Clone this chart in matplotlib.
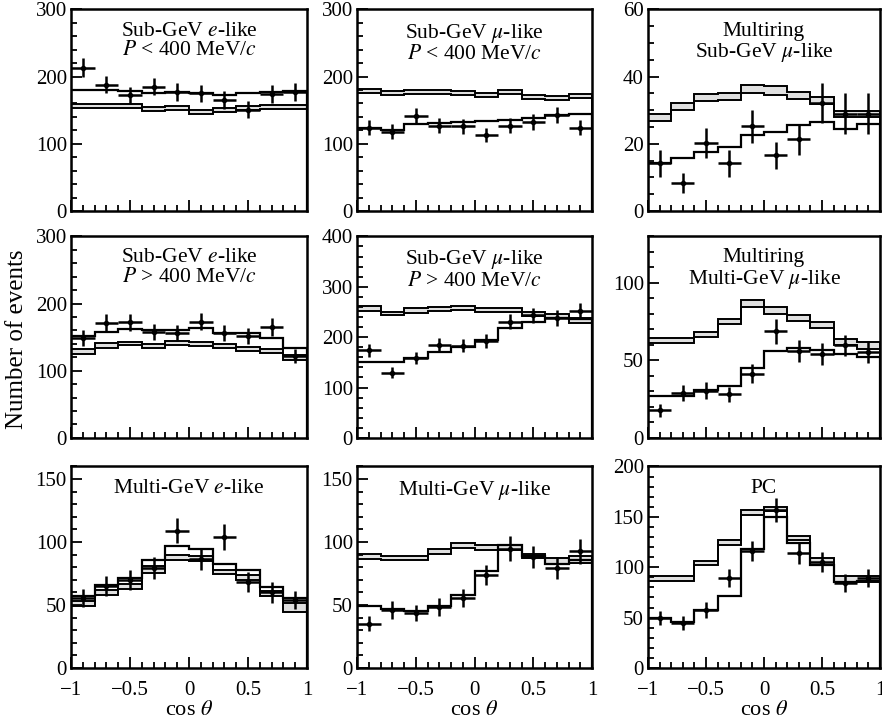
import numpy as np
import matplotlib
matplotlib.use('Agg')
import matplotlib.pyplot as plt

plt.rcParams['font.family'] = ['Liberation Serif', 'DejaVu Serif']
plt.rcParams['mathtext.fontset'] = 'stix'
plt.rcParams['font.size'] = 15

# bin edges / centres in cos(theta)
edges = np.linspace(-1, 1, 11)
centres = (edges[:-1] + edges[1:]) / 2

# Sub-GeV e-like, P < 400 MeV/c
sge_lo_data = [213, 188, 172, 185, 177, 175, 165, 151, 174, 177]
sge_lo_err = [14, 13, 13, 13, 13, 13, 13, 13, 13, 13]
sge_lo_band_lo = [153, 153, 153, 149, 150, 145, 148, 150, 152, 152]
sge_lo_band_hi = [159, 159, 159, 155, 156, 151, 154, 156, 158, 158]
sge_lo_osc = [180, 180, 178, 176, 177, 175, 173, 175, 177, 178]

# Sub-GeV mu-like, P < 400 MeV/c
sgm_lo_data = [124, 118, 141, 127, 126, 113, 127, 132, 143, 124]
sgm_lo_err = [11, 11, 12, 11, 11, 11, 11, 12, 12, 11]
sgm_lo_band_lo = [175, 173, 174, 174, 172, 170, 174, 167, 165, 168]
sgm_lo_band_hi = [181, 179, 180, 180, 178, 176, 180, 173, 171, 174]
sgm_lo_osc = [124, 121, 129, 131, 132, 134, 136, 138, 143, 144]

# Multiring Sub-GeV mu-like
mr_sg_data = [14.2, 8.4, 20.3, 14.2, 25.2, 16.6, 21.3, 32.2, 29, 29]
mr_sg_err = [4, 3, 4.5, 4, 5, 4, 4.5, 6, 6, 6]
mr_sg_band_lo = [26.9, 30.2, 32.8, 33.0, 35.1, 34.6, 33.3, 31.8, 28.0, 28.0]
mr_sg_band_hi = [29.0, 32.2, 34.7, 35.0, 37.4, 37.2, 35.4, 34.0, 29.8, 29.7]
mr_sg_osc = [14.2, 15.9, 17.6, 19.1, 22.6, 23.6, 25.5, 26.5, 24.5, 25.8]

# Sub-GeV e-like, P > 400 MeV/c
sge_hi_data = [149, 171, 172, 158, 156, 173, 156, 152, 165, 122]
sge_hi_err = [12, 13, 13, 12, 12, 13, 12, 12, 13, 11]
sge_hi_band_lo = [125, 134, 138, 134, 138, 137, 134, 130, 126, 116]
sge_hi_band_hi = [132, 141, 143, 140, 144, 143, 140, 136, 132, 123]
sge_hi_osc = [151, 157, 162, 160, 161, 163, 156, 156, 148, 134]

# Sub-GeV mu-like, P > 400 MeV/c
sgm_hi_data = [174, 129, 158, 185, 183, 192, 231, 243, 238, 251]
sgm_hi_err = [13, 11, 12, 14, 13, 14, 15, 15, 15, 16]
sgm_hi_band_lo = [251, 243, 248, 252, 253, 250, 250, 241, 238, 228]
sgm_hi_band_hi = [261, 250, 257, 260, 262, 258, 258, 250, 245, 238]
sgm_hi_osc = [150, 150, 158, 171, 181, 195, 218, 231, 238, 235]

# Multiring Multi-GeV mu-like
mr_mg_data = [17.8, 29, 30.5, 28, 41.5, 68.8, 56, 54, 59.6, 55.3]
mr_mg_err = [4, 5, 5.5, 5, 6, 8, 7, 7, 7, 7]
mr_mg_band_lo = [61.3, 61.3, 65.2, 73.5, 84.5, 80.2, 75.3, 71.0, 59.8, 57.6]
mr_mg_band_hi = [64.5, 64.5, 68.4, 77.0, 88.8, 84.5, 79.0, 75.0, 64.0, 62.0]
mr_mg_osc = [27, 27, 30.8, 33.3, 45, 56.3, 58, 57, 54, 52]

# Multi-GeV e-like
mge_data = [55.6, 65, 69.6, 79.4, 109, 86.5, 104, 68, 60, 54]
mge_err = [7.5, 8, 8, 9, 10, 9, 10, 8, 8, 7]
mge_band_lo = [49, 58, 63, 75.4, 86, 84.7, 74.9, 69.6, 57, 44.4]
mge_band_hi = [53, 62, 67, 80.7, 90, 88.6, 77.5, 74, 61, 51.6]
mge_osc = [57, 66, 71.4, 86, 96.6, 94.7, 82.8, 77.5, 64.3, 55.6]

# Multi-GeV mu-like
mgm_data = [35, 46.3, 43.7, 48.4, 55.6, 74, 94.7, 88, 79.4, 92.6]
mgm_err = [6, 7, 6.5, 7, 7, 8, 10, 9, 9, 10]
mgm_band_lo = [86.5, 86, 86, 90.5, 95, 94, 94, 87.3, 82.8, 83]
mgm_band_hi = [90.7, 88.6, 88.6, 94.4, 99, 98, 98, 90.7, 87.3, 88.6]
mgm_osc = [49, 47, 45, 49, 58, 76.7, 98, 88.6, 82.8, 86]

# PC
pc_data = [49.4, 45, 58, 89, 116, 157, 113.7, 105.4, 84.7, 89]
pc_err = [7, 7, 8, 9, 10, 12, 10, 10, 9, 9]
pc_band_lo = [86.3, 86.3, 102, 121.9, 151.5, 155.5, 126.9, 102, 85.7, 85.7]
pc_band_hi = [91.3, 91.3, 106, 127.5, 157.2, 159.8, 130.8, 108.7, 91.3, 91.3]
pc_osc = [49.4, 46, 58, 71.5, 118, 150, 123.6, 102, 85.7, 86.3]

titles = [
    'Sub-GeV $e$-like\n$P$ < 400 MeV/$c$',
    'Sub-GeV $\\mu$-like\n$P$ < 400 MeV/$c$',
    'Multiring\nSub-GeV $\\mu$-like',
    'Sub-GeV $e$-like\n$P$ > 400 MeV/$c$',
    'Sub-GeV $\\mu$-like\n$P$ > 400 MeV/$c$',
    'Multiring\nMulti-GeV $\\mu$-like',
    'Multi-GeV $e$-like',
    'Multi-GeV $\\mu$-like',
    'PC',
]
ylims = [300, 300, 60, 300, 400, 130, 160, 160, 200]
ymajor = [100, 100, 20, 100, 100, 50, 50, 50, 50]
yminor = [20, 20, 5, 20, 20, 10, 10, 10, 10]

panels = [
    (sge_lo_data, sge_lo_err, sge_lo_band_lo, sge_lo_band_hi, sge_lo_osc),
    (sgm_lo_data, sgm_lo_err, sgm_lo_band_lo, sgm_lo_band_hi, sgm_lo_osc),
    (mr_sg_data, mr_sg_err, mr_sg_band_lo, mr_sg_band_hi, mr_sg_osc),
    (sge_hi_data, sge_hi_err, sge_hi_band_lo, sge_hi_band_hi, sge_hi_osc),
    (sgm_hi_data, sgm_hi_err, sgm_hi_band_lo, sgm_hi_band_hi, sgm_hi_osc),
    (mr_mg_data, mr_mg_err, mr_mg_band_lo, mr_mg_band_hi, mr_mg_osc),
    (mge_data, mge_err, mge_band_lo, mge_band_hi, mge_osc),
    (mgm_data, mgm_err, mgm_band_lo, mgm_band_hi, mgm_osc),
    (pc_data, pc_err, pc_band_lo, pc_band_hi, pc_osc),
]

fig = plt.figure(figsize=(8.82, 7.25), dpi=100)

lefts = [0.0805, 0.4048, 0.7347]
widths = [0.2676, 0.2664, 0.2630]
bottoms = [0.709, 0.396, 0.0786]
height = 0.278

for i, (data, err, blo, bhi, osc) in enumerate(panels):
    r, c = divmod(i, 3)
    ax = fig.add_axes([lefts[c], bottoms[r], widths[c], height])

    # no-oscillation band
    ax.stairs(bhi, edges, baseline=blo, fill=True, color='#e0e0e0', lw=0)
    ax.stairs(blo, edges, color='black', lw=1.4)
    ax.stairs(bhi, edges, color='black', lw=1.4)
    # oscillation fit
    ax.stairs(osc, edges, color='black', lw=1.6)
    # data crosses
    ax.errorbar(centres, data, yerr=err, xerr=0.1, fmt='o', ms=3,
                color='black', elinewidth=1.8, capsize=0)

    ax.set_xlim(-1, 1)
    ax.set_ylim(0, ylims[i])
    ax.set_xticks([-1, -0.5, 0, 0.5, 1])
    ax.set_xticks(np.arange(-1, 1.01, 0.1), minor=True)
    ax.set_yticks(np.arange(0, ylims[i] + 0.1, ymajor[i]))
    ax.set_yticks(np.arange(0, ylims[i] + 0.1, yminor[i]), minor=True)
    ax.tick_params(which='both', direction='in', top=False, right=False, width=1.3)
    ax.tick_params(which='major', length=8)
    ax.tick_params(which='minor', length=4)
    ax.tick_params(axis='y', labelsize=15, pad=3)
    ax.tick_params(axis='x', labelsize=15, pad=9)
    ax.set_xticklabels(['\u22121', '\u22120.5', '0', '0.5', '1'])
    if r < 2:
        ax.tick_params(axis='x', labelbottom=False)
    else:
        ax.set_xlabel(r'cos $\theta$', fontsize=16, labelpad=1)
    for s in ax.spines.values():
        s.set_linewidth(1.8)

    ax.text(0.5, 0.94, titles[i], transform=ax.transAxes, ha='center', va='top',
            fontsize=15.5, linespacing=1.05)

fig.text(0.019, 0.532, 'Number of events', rotation=90, ha='center', va='center',
         fontsize=18)

plt.savefig('out.png', dpi=100)
